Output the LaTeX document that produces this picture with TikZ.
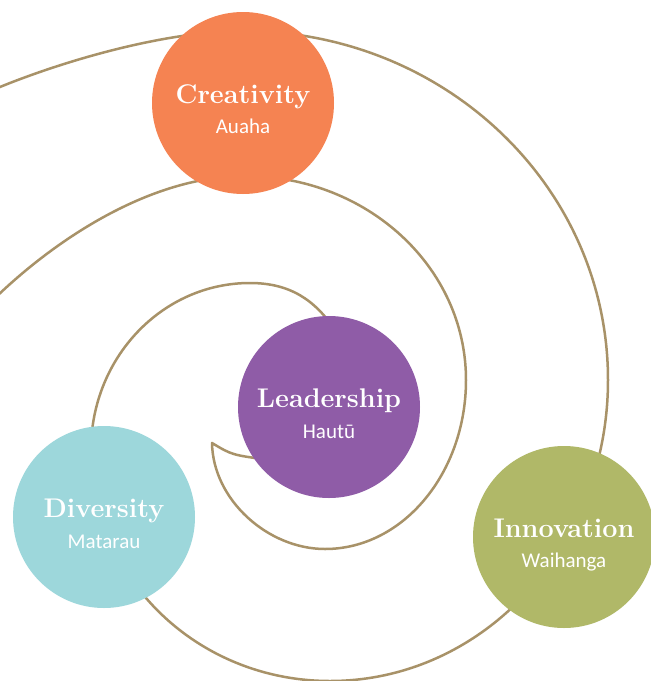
\documentclass[tikz,border=0pt]{standalone}
\usepackage{fontspec}
\newfontfamily\subfont{Carlito}
\usetikzlibrary{backgrounds}
\definecolor{spiral}{RGB}{168,146,104}
\definecolor{creC}{RGB}{245,131,82}
\definecolor{leadC}{RGB}{143,92,167}
\definecolor{divC}{RGB}{157,215,219}
\definecolor{innC}{RGB}{176,184,104}
\begin{document}
\begin{tikzpicture}[x=1pt,y=-1pt,
  disc/.style={circle, minimum size=182pt, inner sep=0pt, draw=none},
  title/.style={text=white, font=\fontsize{27}{30}\selectfont\bfseries, inner sep=0pt, anchor=base},
  sub/.style={text=white, font=\subfont\fontsize{21}{24}\selectfont, inner sep=0pt, anchor=base},
  koru/.style={draw=spiral, line width=2.5pt, line join=round}]
\useasboundingbox (0,0) rectangle (651,681);
% discs
\node[disc, fill=creC]  (cre)  at (243,103) {};
\node[disc, fill=leadC] (lead) at (329,407) {};
\node[disc, fill=divC]  (div)  at (104,517) {};
\node[disc, fill=innC]  (inn)  at (564,537) {};
% labels
\node[title] (creT)  at (cre.center)  {Creativity};
\node[sub]   (creS)  at ([yshift=-30pt]cre.center)  {Auaha};
\node[title] (leadT) at (lead.center) {Leadership};
\node[sub]   (leadS) at ([yshift=-31pt]lead.center) {Hautū};
\node[title] (divT)  at (div.center)  {Diversity};
\node[sub]   (divS)  at ([yshift=-31pt]div.center)  {Matarau};
\node[title] (innT)  at (inn.center)  {Innovation};
\node[sub]   (innS)  at ([yshift=-30pt]inn.center)  {Waihanga};
% spiral
\begin{scope}[on background layer]
\fill[white] (0,0) rectangle (651,681);
% outer arm, ending inside Leadership
\draw[koru] (-5,89) .. controls (70,58) and (170,31) .. (243,31)
  .. controls (445,31) and (608,187) .. (608,380)
  .. controls (608,546) and (484,681) .. (330,681)
  .. controls (197,681) and (91,578) .. (91,450)
  .. controls (91,358) and (162,283) .. (250,283)
  .. controls (290,283) and (315,300) .. (335,330);
% inner arm, ending with the tip
\draw[koru] (-5,298) .. controls (55,240) and (150,176) .. (245,176)
  .. controls (367,176) and (466,267) .. (466,380)
  .. controls (466,473) and (403,549) .. (325,549)
  .. controls (268,549) and (213,500) .. (212,443)
  .. controls (232,455) .. (270,460);
\end{scope}
\end{tikzpicture}
\end{document}
